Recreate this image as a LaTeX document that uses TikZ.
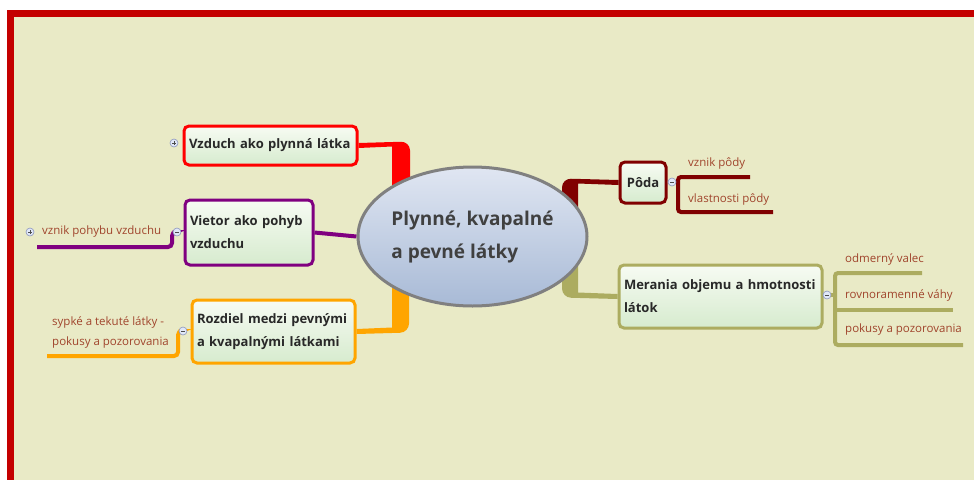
\documentclass[tikz,border=0pt]{standalone}
\usepackage{fontspec}
\setmainfont{Open Sans}
\usetikzlibrary{shapes.geometric}

\definecolor{paper}{RGB}{233,234,198}
\definecolor{framered}{RGB}{196,0,0}
\definecolor{vzred}{RGB}{255,0,0}
\definecolor{vipurple}{RGB}{128,0,128}
\definecolor{roorange}{RGB}{255,165,0}
\definecolor{podared}{RGB}{128,0,0}
\definecolor{meolive}{RGB}{172,172,96}
\definecolor{subtxt}{RGB}{160,68,44}
\definecolor{boxtxt}{RGB}{40,40,40}
\definecolor{boxtop}{RGB}{247,251,243}
\definecolor{boxbot}{RGB}{214,235,206}
\definecolor{elltop}{RGB}{224,230,242}
\definecolor{ellbot}{RGB}{168,186,214}
\definecolor{iconrim}{RGB}{140,150,190}
\definecolor{iconfill}{RGB}{225,232,248}

\pgfdeclarelayer{bg}
\pgfdeclarelayer{links}
\pgfsetlayers{bg,links,main}

\tikzset{
  topic/.style={draw, line width=3pt, rounded corners=5pt,
    top color=boxtop, bottom color=boxbot, anchor=north west,
    align=left, inner xsep=5pt, inner ysep=3pt, text=boxtxt,
    font=\bfseries\fontsize{13}{23}\selectfont},
  subtopic/.style={anchor=west, inner sep=0pt, text=subtxt, align=left,
    font=\fontsize{11.5}{20}\selectfont},
  branch/.style={line width=4pt},
  icon/.style={circle, minimum size=8pt, inner sep=0pt, draw=iconrim,
    fill=iconfill, line width=0.6pt},
  iconminus/.style={icon, path picture={
    \draw[line width=0.7pt, black!70]
      ([xshift=-2pt]path picture bounding box.center) --
      ([xshift=2pt]path picture bounding box.center);}},
  iconplus/.style={icon, path picture={
    \draw[line width=0.7pt, black!70]
      ([xshift=-2pt]path picture bounding box.center) --
      ([xshift=2pt]path picture bounding box.center)
      ([yshift=-2pt]path picture bounding box.center) --
      ([yshift=2pt]path picture bounding box.center);}},
}

\begin{document}
\begin{tikzpicture}[x=1pt, y=-1pt]
\useasboundingbox (0,0) rectangle (974,480);

% page, paper and frame
\begin{pgfonlayer}{bg}
  \fill[white] (0,0) rectangle (974,480);
  \fill[paper] (7,10) rectangle (974,480);
  \fill[framered] (7,10) rectangle (974,16.5);
  \fill[framered] (7,10) rectangle (13.5,480);
\end{pgfonlayer}

% central topic
\node[ellipse, minimum width=229pt, minimum height=139pt, draw=black!50,
  line width=3pt, top color=elltop, bottom color=ellbot] (c) at (472.5,236.5) {};
\node[align=left, text=black!75, font=\bfseries\fontsize{19}{33}\selectfont]
  (ct) at (472.5,237) {Plynné, kvapalné\\a pevné látky};

% main topics
\node[topic, draw=vzred, minimum width=173pt, minimum height=39pt, text width=163pt]
  (vz) at (182.5,124.5) {Vzduch ako plynná látka};
\node[topic, draw=vipurple, minimum width=128pt, minimum height=65pt, text width=118pt]
  (vi) at (183.5,198.5) {Vietor ako pohyb\\vzduchu};
\node[topic, draw=roorange, minimum width=163pt, minimum height=63pt, text width=153pt]
  (ro) at (190.5,298.5) {Rozdiel medzi pevnými\\a kvapalnými látkami};
\node[topic, draw=podared, minimum width=46pt, minimum height=41pt, text width=36pt,
  align=center] (po) at (618.5,160.5) {Pôda};
\node[topic, draw=meolive, minimum width=203pt, minimum height=63pt, text width=193pt]
  (me) at (617.5,263.5) {Merania objemu a hmotnosti\\látok};

% expand / collapse markers
\node[iconplus]  (vzi) at (174,143) {};
\node[iconplus]  (vsi) at (30,232) {};
\node[iconminus] (vii) at (177,232) {};
\node[iconminus] (roi) at (183,331) {};
\node[iconminus] (poi) at (672,182) {};
\node[iconminus] (mei) at (827,295) {};

% subtopics
\node[subtopic] (vs1) at (42,232) {vznik pohybu vzduchu};
\node[subtopic] (rs1) at (52,332) {sypké a tekuté látky -\\pokusy a pozorovania};
\node[subtopic] (ps1) at (688,163) {vznik pôdy};
\node[subtopic] (ps2) at (688,199) {vlastnosti pôdy};
\node[subtopic] (ms1) at (845,259) {odmerný valec};
\node[subtopic] (ms2) at (845,295) {rovnoramenné váhy};
\node[subtopic] (ms3) at (845,330) {pokusy a pozorovania};

\coordinate (vsend) at (37,247);
\coordinate (rsend) at (47,356);
\coordinate (ps1end) at (750,177);
\coordinate (ps2end) at (773,212);
\coordinate (ms1end) at (922,273);
\coordinate (ms2end) at (953,310);
\coordinate (ms3end) at (963,345);

\begin{pgfonlayer}{links}
  % branches from the central topic
  \fill[vzred] ([yshift=2.5pt]vz.east) [rounded corners=9pt] -- (410,141.5)
    [sharp corners] -- (410,210) -- (392,210) -- (392,146.5)
    -- ([yshift=-2.5pt]vz.east) -- cycle;
  \draw[vipurple, branch] (vi.east) -- (c.west);
  \fill[roorange] ([yshift=2.5pt]ro.east) -- (392,327.5) -- (392,270)
    -- (409,270) [rounded corners=9pt] -- (409,332.5)
    [sharp corners] -- ([yshift=-2.5pt]ro.east) -- cycle;
  \fill[podared] ([yshift=2.5pt]po.west) [rounded corners=9pt] -- (562,178.5)
    [sharp corners] -- (562,215) -- (578,215) -- (578,183.5)
    -- ([yshift=-2.5pt]po.west) -- cycle;
  \fill[meolive] ([yshift=2.5pt]me.west) -- (578,292.5) -- (578,255)
    -- (562,255) [rounded corners=9pt] -- (562,297.5)
    [sharp corners] -- ([yshift=-2.5pt]me.west) -- cycle;

  % branches to the subtopics
  \draw[vipurple, branch, rounded corners=4pt] (vsend) -- (172,247) -- (172,232) -- (vii);
  \draw[roorange, branch, rounded corners=4pt] (rsend) -- (178,356) -- (178,331) -- (roi);
  \draw[podared, branch] (poi) -- (678,182);
  \draw[podared, branch, rounded corners=3pt] (ps1end) -- (678,177) -- (678,212) -- (ps2end);
  \draw[meolive, branch] (mei) -- (835,295);
  \draw[meolive, branch, rounded corners=3pt] (ms1end) -- (835,273) -- (835,345) -- (ms3end);
  \draw[meolive, branch] (835,310) -- (ms2end);
\end{pgfonlayer}
\end{tikzpicture}
\end{document}
